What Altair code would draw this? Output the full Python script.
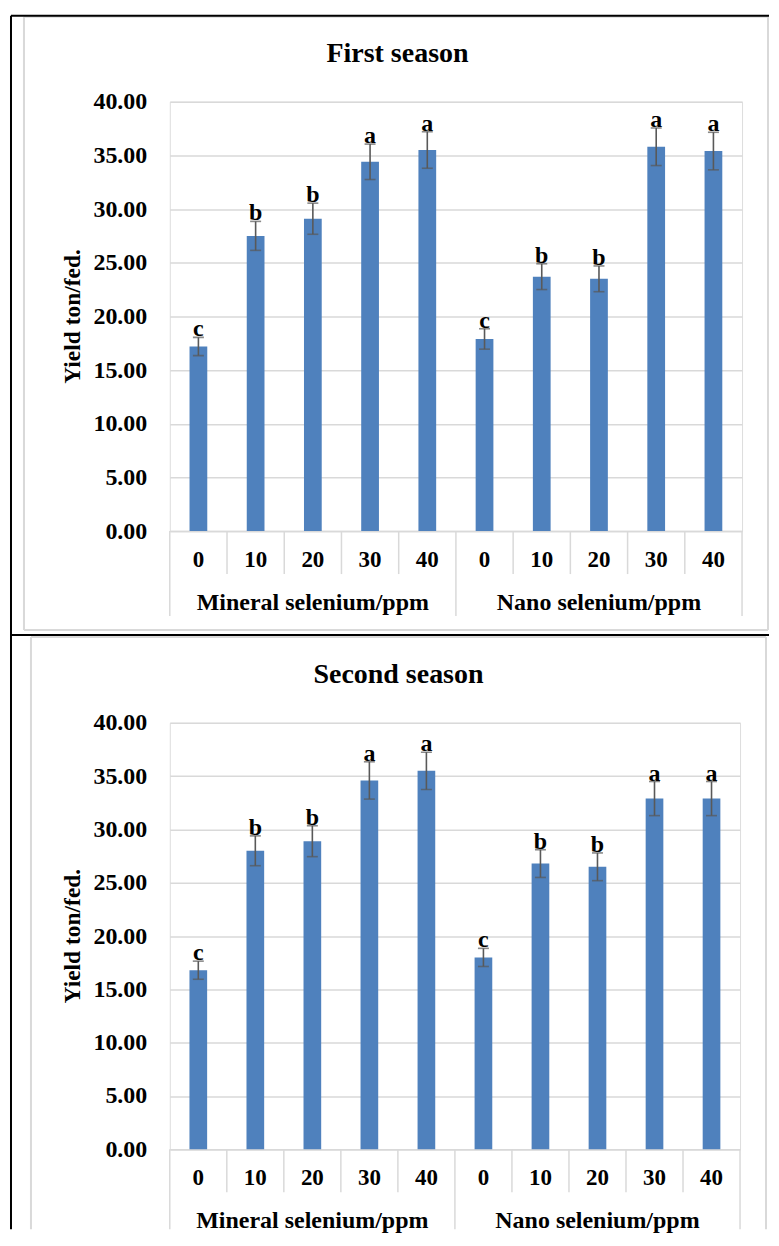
import altair as alt
import pandas as pd

# ---- data ----
groups = ["Mineral selenium/ppm"] * 5 + ["Nano selenium/ppm"] * 5
doses = ["0", "10", "20", "30", "40"] * 2
letters = ["c", "b", "b", "a", "a", "c", "b", "b", "a", "a"]

season1_yield = [17.2, 27.5, 29.1, 34.4, 35.5, 17.9, 23.7, 23.5, 35.8, 35.4]
season1_err = [0.85, 1.35, 1.45, 1.65, 1.7, 0.95, 1.2, 1.2, 1.75, 1.75]
season2_yield = [16.8, 28.0, 28.9, 34.6, 35.5, 18.0, 26.8, 26.5, 32.9, 32.9]
season2_err = [0.85, 1.4, 1.45, 1.75, 1.75, 0.85, 1.3, 1.3, 1.6, 1.6]

y_ticks = [0, 5, 10, 15, 20, 25, 30, 35, 40]

keys = [g[0] + "|" + d for g, d in zip(groups, doses)]

FONT = "Liberation Serif"
BLUE = "#4F81BD"
GRID = "#D9D9D9"
ERR = "#595959"


def one(**kw):
    return alt.Chart(pd.DataFrame({k: [v] for k, v in kw.items()}))


def panel(title, vals, errs, W, H, title_x, box, black, long_len):
    df = pd.DataFrame({
        "key": keys, "group": groups, "dose": doses, "letter": letters,
        "yield": vals,
        "lo": [v - e for v, e in zip(vals, errs)],
        "hi": [v + e for v, e in zip(vals, errs)],
    })
    xaxis = alt.Axis(title=None, labelExpr="split(datum.label, '|')[1]", labelAngle=0,
                     labelFont=FONT, labelFontSize=23, labelFontWeight="bold",
                     labelColor="black", labelPadding=17, ticks=False,
                     domainColor=GRID, domainWidth=1.5, grid=False)
    xscale = alt.Scale(paddingInner=0, paddingOuter=0)
    yaxis = alt.Axis(title=None, values=y_ticks, format=".2f", labelFont=FONT,
                     labelFontSize=24, labelFontWeight="bold", labelColor="black",
                     labelPadding=23, ticks=False, domain=False, gridColor=GRID,
                     gridWidth=1.5)
    yscale = alt.Scale(domain=[0, 40], nice=False)

    def X(**kw):
        return alt.X("key:N", sort=keys, scale=xscale, axis=xaxis, **kw)

    def Y(f):
        return alt.Y(f + ":Q", scale=yscale, axis=yaxis)

    base = alt.Chart(df)
    bars = base.mark_bar(color=BLUE, width=alt.RelativeBandSize(0.31)).encode(x=X(), y=Y("yield"))
    err = base.mark_rule(color=ERR, strokeWidth=1.6).encode(x=X(), y=Y("lo"), y2="hi:Q")
    cap_hi = base.mark_tick(color=ERR, thickness=1.6, size=11, orient="horizontal").encode(x=X(), y=Y("hi"))
    cap_lo = base.mark_tick(color=ERR, thickness=1.6, size=11, orient="horizontal").encode(x=X(), y=Y("lo"))
    lett = base.mark_text(font=FONT, fontSize=24, fontWeight="bold", baseline="alphabetic",
                          dy=-1, color="black").encode(x=X(), y=Y("hi"), text="letter:N")

    short_df = df[df["dose"] != "0"]
    long_df = df[df["dose"] == "0"]
    last_df = df.iloc[[-1]]
    sep_short = alt.Chart(short_df).mark_rule(color=GRID, strokeWidth=1.5).encode(
        x=X(bandPosition=0), y=alt.value(H), y2=alt.value(H + 43))
    sep_long = alt.Chart(long_df).mark_rule(color=GRID, strokeWidth=1.5).encode(
        x=X(bandPosition=0), y=alt.value(H), y2=alt.value(H + long_len))
    sep_last = alt.Chart(last_df).mark_rule(color=GRID, strokeWidth=1.5).encode(
        x=X(bandPosition=1), y=alt.value(H), y2=alt.value(H + long_len))
    grp = alt.Chart(df[df["dose"] == "20"]).mark_text(
        font=FONT, fontSize=24, fontWeight="bold", color="black", baseline="middle").encode(
        x=X(), y=alt.value(H + 72), text="group:N")

    ttl = one(t=title).mark_text(font=FONT, fontSize=28, fontWeight="bold", color="black",
                                 baseline="middle").encode(
        x=alt.value(title_x), y=alt.value(-48), text="t:N")
    ytitle = one(t="Yield ton/fed.").mark_text(font=FONT, fontSize=23.5, fontWeight="bold",
                                               color="black", angle=270, baseline="middle").encode(
        x=alt.value(-97), y=alt.value(H / 2), text="t:N")

    layers = [ttl, ytitle, sep_short, sep_long, sep_last, grp, bars, err, cap_hi, cap_lo, lett]

    bx0, by0, bx1, by1, closed = box
    gray = dict(color=GRID, strokeWidth=2)
    layers.append(one(a=1).mark_rule(**gray).encode(x=alt.value(bx0), y=alt.value(by0), y2=alt.value(by1)))
    layers.append(one(a=1).mark_rule(**gray).encode(x=alt.value(bx1), y=alt.value(by0), y2=alt.value(by1)))
    layers.append(one(a=1).mark_rule(**gray).encode(x=alt.value(bx0), x2=alt.value(bx1), y=alt.value(by0)))
    if closed:
        layers.append(one(a=1).mark_rule(**gray).encode(x=alt.value(bx0), x2=alt.value(bx1), y=alt.value(by1)))

    blk = dict(color="black", strokeWidth=2)
    for (x0, y0, x1, y1) in black:
        if x0 == x1:
            layers.append(one(a=1).mark_rule(**blk).encode(x=alt.value(x0), y=alt.value(y0), y2=alt.value(y1)))
        else:
            layers.append(one(a=1).mark_rule(**blk).encode(x=alt.value(x0), x2=alt.value(x1), y=alt.value(y0)))

    return alt.layer(*layers).properties(width=W, height=H)


top = panel("First season", season1_yield, season1_err, 573, 430, 228,
            (-146, -85, 599, 529, True),
            [(-159, -86, 600, -86), (-159, -86, -159, 534), (-159, 534, 600, 534)],
            85)
bottom = panel("Second season", season2_yield, season2_err, 571, 427, 229,
               (-139, -86, 597, 507, False),
               [(-159, -88, -159, 507)],
               80)

chart = alt.vconcat(top, bottom, spacing=192, bounds="flush").properties(
    padding={"left": 1, "top": 5, "right": 0, "bottom": 0}
).configure_view(stroke=None).configure(background="white")

chart.save("out.html", embed_options={"renderer": "svg", "actions": False})
